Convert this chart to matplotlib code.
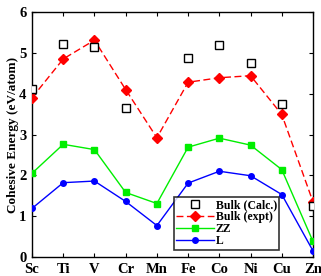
import numpy as np
import matplotlib
matplotlib.use("Agg")
import matplotlib.pyplot as plt

elements = ["Sc", "Ti", "V", "Cr", "Mn", "Fe", "Co", "Ni", "Cu", "Zn"]
bulk_calc = [4.11, 5.22, 5.15, 3.64, np.nan, 4.87, 5.19, 4.76, 3.75, 1.26]
bulk_expt = [3.90, 4.85, 5.31, 4.10, 2.92, 4.28, 4.39, 4.44, 3.49, 1.35]
zz = [2.05, 2.76, 2.63, 1.58, 1.31, 2.69, 2.91, 2.74, 2.14, 0.38]
lz = [1.19, 1.82, 1.86, 1.36, 0.77, 1.81, 2.10, 1.99, 1.53, 0.15]

plt.rcParams['font.family'] = ['Liberation Serif', 'DejaVu Serif']
plt.rcParams['font.weight'] = 'bold'

fig = plt.figure(figsize=(3.21, 2.76), dpi=100)
ax = fig.add_axes([32/321, 19/276, 281/321, 245/276])

x = np.arange(len(elements))
ax.plot(x, bulk_calc, ls='none', marker='s', mfc='white', mec='black',
        ms=5.5, mew=1.0, label='Bulk (Calc.)', zorder=4)
ax.plot(x, bulk_expt, color='#ff0000', ls=(0, (5, 2.5)), lw=1.0, marker='D',
        ms=5, label='Bulk (expt)', zorder=3)
ax.plot(x, zz, color='#00ee00', lw=1.0, marker='s', ms=5, label='ZZ', zorder=3)
ax.plot(x, lz, color='#0000ff', lw=1.0, marker='o', ms=4, label='L', zorder=3)

ax.set_xlim(0, 9)
ax.set_ylim(0, 6)
ax.set_xticks(x)
ax.set_xticklabels(elements)
ax.set_yticks(range(7))
ax.tick_params(direction='in', top=True, right=True, length=3, width=0.8,
               labelsize=10.5)
ax.tick_params(axis='x', pad=4)
ax.tick_params(axis='y', pad=4)
ax.set_ylabel("Cohesive Energy (eV/atom)", fontsize=9.5, fontweight='bold', labelpad=0)
for s in ax.spines.values():
    s.set_linewidth(1.0)

leg = ax.legend(loc='lower right', bbox_to_anchor=(0.88, 0.03), fontsize=8.5,
                frameon=True, fancybox=False, edgecolor='black',
                handlelength=3.2, handletextpad=0.15, borderpad=0.2,
                labelspacing=0.0, borderaxespad=0)
leg.get_frame().set_linewidth(1.2)

fig.savefig("out.png", dpi=100)
